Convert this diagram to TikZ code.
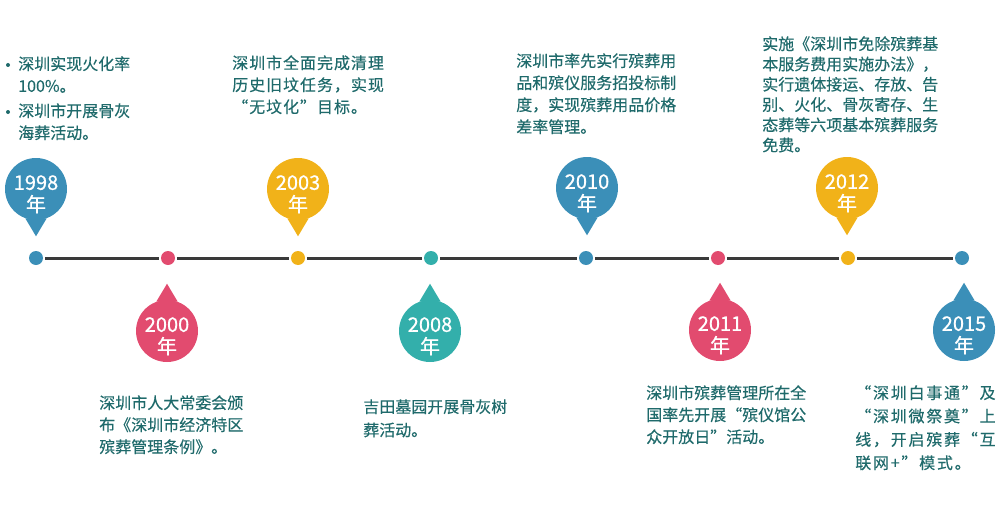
\documentclass[tikz,border=0pt]{standalone}
\usepackage{fontspec}
\setmainfont{Noto Sans CJK SC}
\usetikzlibrary{calc}

\definecolor{yrblue}{HTML}{3B8FB8}
\definecolor{yrpink}{HTML}{E24B6F}
\definecolor{yryellow}{HTML}{F1B219}
\definecolor{yrteal}{HTML}{33AFAB}
\definecolor{notecol}{HTML}{1F6A6B}
\definecolor{linecol}{HTML}{3A3A3A}

\begin{document}
\begin{tikzpicture}[x=0.75pt,y=-0.75pt,
    yearpin/.style={circle,inner sep=0pt,minimum size=46.5pt},
    yeartext/.style={inner sep=0pt,text=white,align=center,yshift=-4pt,
        font=\fontsize{15}{16.5}\selectfont\addfontfeature{FakeBold=0.8}},
    dot/.style={circle,inner sep=0pt,minimum size=10.5pt,outer sep=1.5pt},
    note/.style={anchor=north west,inner sep=0pt,align=left,text=notecol,
        font=\fontsize{12}{16.5}\selectfont\addfontfeature{FakeBold=0.3}},
    wide/.style={font=\fontsize{12}{16.5}\selectfont\addfontfeature{LetterSpace=6,FakeBold=0.3}}]
\useasboundingbox (0,0) rectangle (1002,510);

% dots on the time line
\node[dot,fill=yrblue] (d1998) at (36,258) {};
\node[dot,fill=yrpink] (d2000) at (168,258) {};
\node[dot,fill=yryellow] (d2003) at (298,258) {};
\node[dot,fill=yrteal] (d2008) at (431,258) {};
\node[dot,fill=yrblue] (d2010) at (586,258) {};
\node[dot,fill=yrpink] (d2011) at (718,258) {};
\node[dot,fill=yryellow] (d2012) at (848,258) {};
\node[dot,fill=yrblue] (d2015) at (962,258) {};

\draw[linecol,line width=2.25pt] (d1998) -- (d2000) -- (d2003) -- (d2008)
    -- (d2010) -- (d2011) -- (d2012) -- (d2015);

% pins above
\node[yearpin,fill=yrblue] (y1998) at (36,189) {};
\fill[yrblue] (y1998.-110) -- ($(y1998.south)+(0,16)$) -- (y1998.-70);
\node[yeartext] (l1998) at (y1998) {1998\\年};
\node[yearpin,fill=yryellow] (y2003) at (298,189) {};
\fill[yryellow] (y2003.-110) -- ($(y2003.south)+(0,16)$) -- (y2003.-70);
\node[yeartext] (l2003) at (y2003) {2003\\年};
\node[yearpin,fill=yrblue] (y2010) at (587,188) {};
\fill[yrblue] (y2010.-110) -- ($(y2010.south)+(0,16)$) -- (y2010.-70);
\node[yeartext] (l2010) at (y2010) {2010\\年};
\node[yearpin,fill=yryellow] (y2012) at (847,188) {};
\fill[yryellow] (y2012.-110) -- ($(y2012.south)+(0,16)$) -- (y2012.-70);
\node[yeartext] (l2012) at (y2012) {2012\\年};

% pins below
\node[yearpin,fill=yrpink] (y2000) at (167,331) {};
\fill[yrpink] (y2000.110) -- ($(y2000.north)+(0,-16)$) -- (y2000.70);
\node[yeartext] (l2000) at (y2000) {2000\\年};
\node[yearpin,fill=yrteal] (y2008) at (430,331) {};
\fill[yrteal] (y2008.110) -- ($(y2008.north)+(0,-16)$) -- (y2008.70);
\node[yeartext] (l2008) at (y2008) {2008\\年};
\node[yearpin,fill=yrpink] (y2011) at (720,330) {};
\fill[yrpink] (y2011.110) -- ($(y2011.north)+(0,-16)$) -- (y2011.70);
\node[yeartext] (l2011) at (y2011) {2011\\年};
\node[yearpin,fill=yrblue] (y2015) at (964,330) {};
\fill[yrblue] (y2015.110) -- ($(y2015.north)+(0,-16)$) -- (y2015.70);
\node[yeartext] (l2015) at (y2015) {2015\\年};

% notes
\node[note] (n1998a) at (18,56) {深圳实现火化率\\100\%。};
\fill[notecol] ($(n1998a.north west)+(-10,9)$) circle (1.5pt);
\node[note] (n1998b) at (18,103) {深圳市开展骨灰\\海葬活动。};
\fill[notecol] ($(n1998b.north west)+(-10,9)$) circle (1.5pt);
\node[note,wide] (n2003) at (232,55) {深圳市全面完成清理\\历史旧坟任务，实现\\“无坟化”目标。};
\node[note] (n2010) at (516,53) {深圳市率先实行殡葬用\\品和殡仪服务招投标制\\度，实现殡葬用品价格\\差率管理。};
\node[note,font=\fontsize{12}{15.2}\selectfont\addfontfeature{FakeBold=0.3}] (n2012) at (762,36) {实施《深圳市免除殡葬基\\本服务费用实施办法》，\\实行遗体接运、存放、告\\别、火化、骨灰寄存、生\\态葬等六项基本殡葬服务\\免费。};
\node[note] (n2000) at (99,395) {深圳市人大常委会颁\\布《深圳市经济特区\\殡葬管理条例》。};
\node[note,font=\fontsize{12}{17.5}\selectfont\addfontfeature{FakeBold=0.3}] (n2008) at (363,399) {吉田墓园开展骨灰树\\葬活动。};
\node[note] (n2011) at (646,385) {深圳市殡葬管理所在全\\国率先开展“殡仪馆公\\众开放日”活动。};
\node[note,font=\fontsize{12}{17.5}\selectfont\addfontfeature{LetterSpace=11,FakeBold=0.3}] (n2015) at (855,385) {“深圳白事通”及\\“深圳微祭奠”上\\线，开启殡葬“互\\联网+”模式。};
\end{tikzpicture}
\end{document}
